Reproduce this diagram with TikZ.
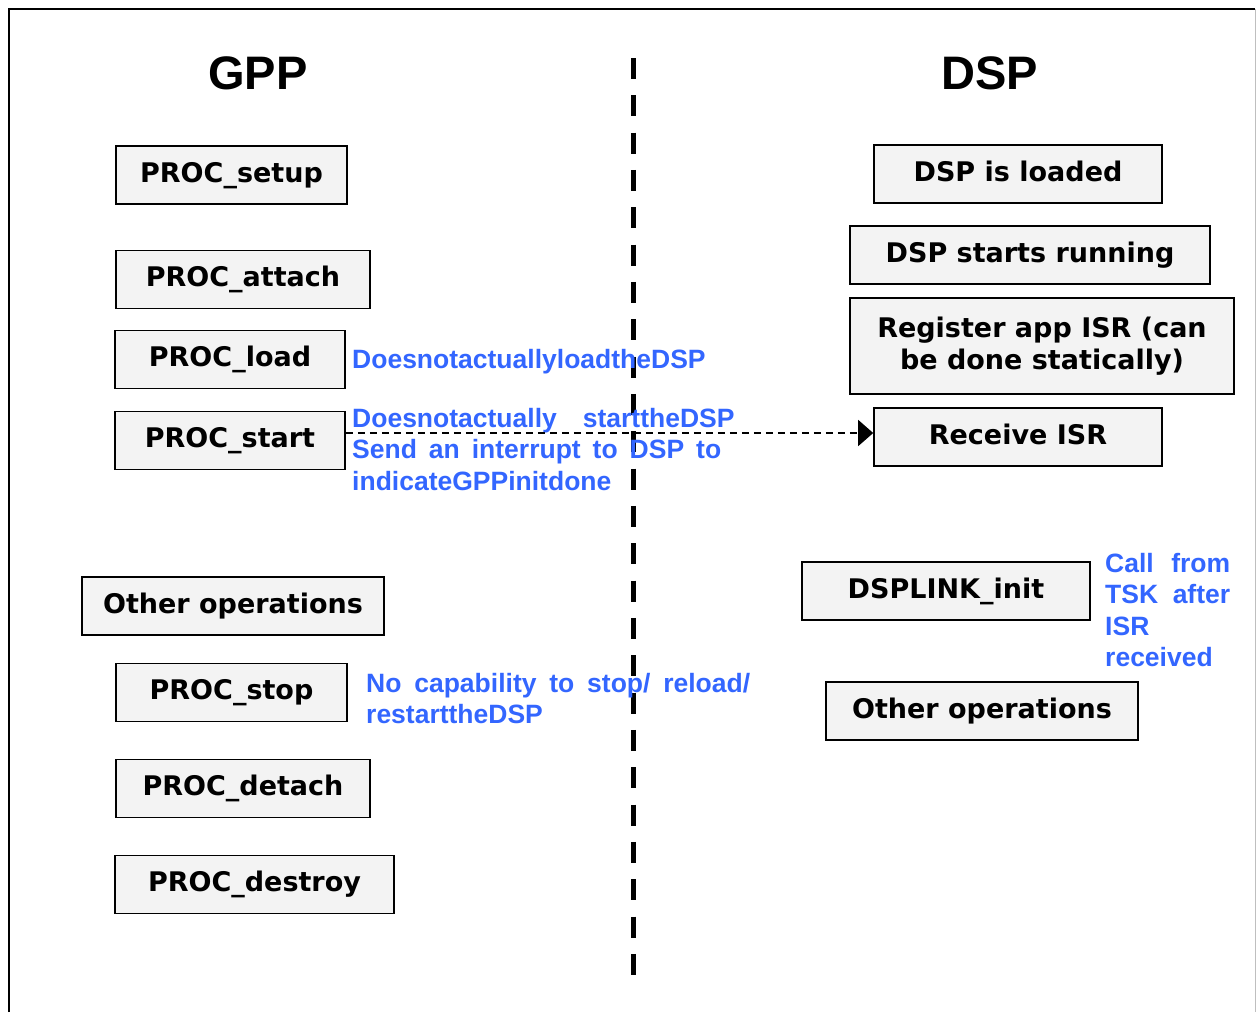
\documentclass[tikz,border=0pt]{standalone}
\usepackage{fontspec}
\setmainfont{DejaVu Sans}
\newfontfamily\arialfont{Liberation Sans}
\usepackage{tikz}
\usetikzlibrary{arrows.meta}
\usetikzlibrary{positioning}
\definecolor{note}{HTML}{3366FF}
\definecolor{boxfill}{HTML}{F3F3F3}
\tikzstyle{block} = [rectangle, draw, line width=1.6pt, fill=boxfill,
    minimum height=58pt, inner sep=0pt, align=center,
    font=\fontsize{27}{32}\selectfont\bfseries, execute at begin node=\vphantom{dp}]
\tikzstyle{title} = [font=\arialfont\fontsize{47}{47}\selectfont\bfseries]
\tikzstyle{remark} = [text=note, anchor=north west, inner sep=0pt, align=left,
    font=\arialfont\fontsize{26.5}{31.5}\selectfont\bfseries]
\tikzstyle{line} = [draw, line width=1.3pt, dash pattern=on 7pt off 5pt,
    -{Triangle[length=15pt,width=26pt]}]
\tikzstyle{divider} = [line width=5pt, dash pattern=on 21pt off 16.33pt]

\begin{document}
\begin{tikzpicture}[x=1pt,y=-1pt]
    \useasboundingbox (0,0) rectangle (1258,1012);
    % frame
    \draw[line width=1.5pt] (9,1012) -- (9,9) -- (1255,9);
    \draw[black!25, line width=1pt] (1255,9) -- (1255,1012);
    \draw[divider] (633,58) -- (633,976);

    % Place nodes
    \node [title] (gpp) at (258,73) {GPP};
    \node [title] (dsp) at (990,73) {DSP};

    \node [block,minimum width=231pt] (setup) at (231.5,175) {PROC\_setup};
    \node [block,minimum width=254pt] (attach) at (243,279.5) {PROC\_attach};
    \node [block,minimum width=230pt] (load) at (230,359.5) {PROC\_load};
    \node [block,minimum width=230pt] (pstart) at (230,440.5) {PROC\_start};
    \node [block,minimum width=302pt] (otherleft) at (233,606) {Other operations};
    \node [block,minimum width=231pt] (stop) at (231.5,692.5) {PROC\_stop};
    \node [block,minimum width=254pt] (detach) at (243,788.5) {PROC\_detach};
    \node [block,minimum width=279pt] (destroy) at (254.5,884.5) {PROC\_destroy};

    \node [block,minimum width=288pt] (loaded) at (1018,174) {DSP is loaded};
    \node [block,minimum width=360pt] (running) at (1030,255) {DSP starts running};
    \node [block,minimum width=384pt,minimum height=96pt,execute at begin node={}] (register) at (1042,346)
        {Register app ISR (can\\be done statically)};
    \node [block,minimum width=288pt] (isr) at (1018,437) {Receive ISR};
    \node [block,minimum width=288pt] (dsplinkinit) at (946,591) {DSPLINK\_init};
    \node [block,minimum width=312pt] (otherright) at (982,711) {Other operations};

    % notes
    \node [remark] (loadnote) at (352,349) {DoesnotactuallyloadtheDSP};
    \node [remark,text width=369pt] (startnote) at (352,408)
        {\mbox{Doesnotactually\hspace*{26pt}starttheDSP}\\
         Send\hfill an\hfill interrupt\hfill to\hfill DSP\hfill to\\
         indicateGPPinitdone};
    \node [remark,text width=384pt] (stopnote) at (366,673)
        {No\hfill capability\hfill to\hfill stop/\hfill reload/\\
         restarttheDSP};
    \node [remark,text width=125pt] (callnote) at (1105,553)
        {Call\hfill from\\TSK\hfill after\\ISR\\received};

    % Draw edges
    \path [line] ([yshift=7.5pt]pstart.east) -- ([yshift=4pt]isr.west);
\end{tikzpicture}
\end{document}
